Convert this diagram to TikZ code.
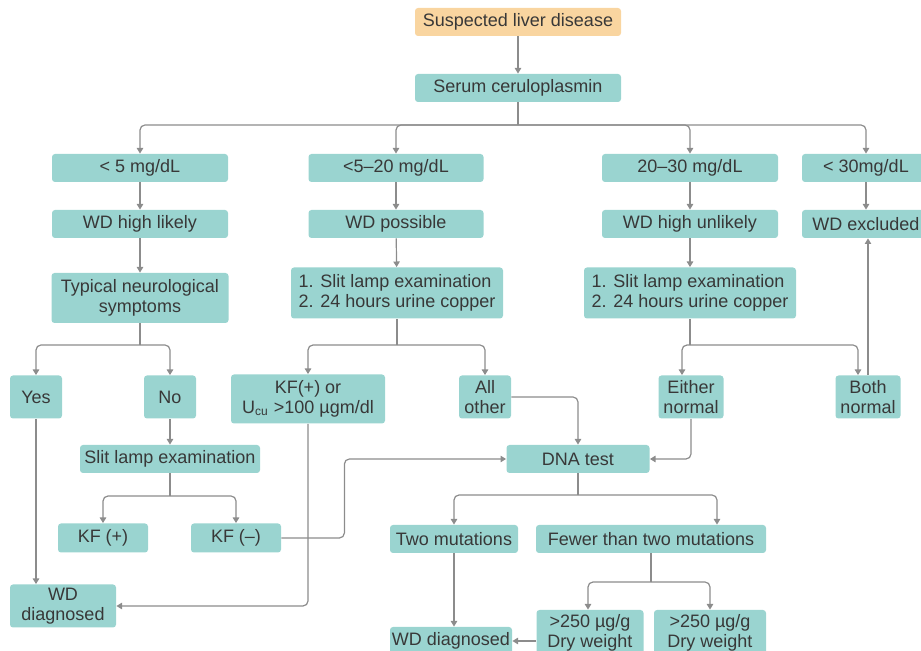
\documentclass[tikz,border=0pt]{standalone}
\usepackage{fontspec}
\setmainfont{Liberation Sans}
\usetikzlibrary{arrows.meta}
\definecolor{boxteal}{HTML}{9AD4D0}
\definecolor{boxorange}{HTML}{F9D5A0}
\definecolor{linkgray}{HTML}{8C8C8C}
\definecolor{textgray}{HTML}{383838}
\tikzstyle{box}=[
    fill=boxteal,rounded corners=1.5pt,inner sep=0pt,
    minimum height=14pt,align=center,text=textgray,
    font=\fontsize{9}{10}\selectfont
    ]
\tikzstyle{startbox}=[box,fill=boxorange]
\tikzstyle{link}=[
    draw=linkgray,line width=0.6pt,rounded corners=2.5pt,
    -{Triangle[width=3.2pt,length=2.8pt]}
    ]
\tikzstyle{joint}=[draw=linkgray,line width=0.6pt]

\begin{document}
\begin{tikzpicture}[
x=0.5pt,y=-0.5pt
]
\useasboundingbox (0,0) rectangle (921,651);
%top
\node[startbox,minimum width=103pt] (suspect) at (518,22) {Suspected liver disease};
\node[box,minimum width=103pt] (serum) at (518,88) {Serum ceruloplasmin};
%levels
\node[box,minimum width=88pt] (lowfive) at (140,168) {< 5 mg/dL};
\node[box,minimum width=87.5pt] (fivetwenty) at (396,168) {<5--20 mg/dL};
\node[box,minimum width=88pt] (twentythirty) at (690,168) {20--30 mg/dL};
\node[box,minimum width=64pt] (thirty) at (866,168) {< 30mg/dL};
\node[box,minimum width=88pt] (likely) at (140,224) {WD high likely};
\node[box,minimum width=87.5pt] (possible) at (396,224) {WD possible};
\node[box,minimum width=88pt] (unlikely) at (690,224) {WD high unlikely};
\node[box,minimum width=64pt] (excluded) at (866,224) {WD excluded};
%examinations
\node[box,minimum width=88.5pt,minimum height=25pt] (neuro) at (140,298) {Typical neurological\\symptoms};
\node[box,minimum width=106pt,minimum height=25.5pt,align=left] (slitA) at (397,293) {1. Slit lamp examination\\2. 24 hours urine copper};
\node[box,minimum width=106pt,minimum height=25.5pt,align=left] (slitB) at (690,293) {1. Slit lamp examination\\2. 24 hours urine copper};
%outcomes
\node[box,minimum width=26pt,minimum height=21.5pt] (yes) at (36,397) {Yes};
\node[box,minimum width=26pt,minimum height=21.5pt] (no) at (170,397) {No};
\node[box,minimum width=77pt,minimum height=24.5pt] (kfor) at (308,399) {KF(+) or\\U\textsubscript{cu} >100 µgm/dl};
\node[box,minimum width=26pt,minimum height=21.5pt] (allother) at (485,397) {All\\other};
\node[box,minimum width=32.5pt,minimum height=21.5pt] (either) at (691,397) {Either\\normal};
\node[box,minimum width=32.5pt,minimum height=21.5pt] (both) at (868,397) {Both\\normal};
\node[box,minimum width=90pt] (slit) at (170,459) {Slit lamp examination};
\node[box,minimum width=71.5pt] (dna) at (578,459) {DNA test};
\node[box,minimum width=45pt,minimum height=14.5pt] (kfplus) at (103,538) {KF (+)};
\node[box,minimum width=45pt,minimum height=14.5pt] (kfminus) at (236,538) {KF (--)};
\node[box,minimum width=64pt] (two) at (454,539) {Two mutations};
\node[box,minimum width=115pt] (fewer) at (651,539) {Fewer than two mutations};
\node[box,minimum width=53pt,minimum height=21.5pt] (diagA) at (63,606) {WD\\diagnosed};
\node[box,minimum width=61pt] (diagB) at (451,641) {WD diagnosed};
\node[box,minimum width=53.5pt,minimum height=23pt] (dryA) at (590,633) {>250 µg/g\\Dry weight};
\node[box,minimum width=56pt,minimum height=23pt] (dryB) at (710,633) {>250 µg/g\\Dry weight};
%branch points
\coordinate (split1) at (518,125);
\coordinate (split2) at (140,345);
\coordinate (split3) at (397,345);
\coordinate (split4) at (690,345);
\coordinate (split5) at (170,496);
\coordinate (split6) at (578,495);
\coordinate (split7) at (651,582);
%top links
\draw[link] (suspect) -- (serum);
\draw[joint] (serum.south) -- (split1);
\draw[link] (split1) -| (lowfive.north);
\draw[link] (split1) -| (fivetwenty.north);
\draw[link] (split1) -| (twentythirty.north);
\draw[link] (split1) -| (thirty.north);
\draw[link] (lowfive) -- (likely);
\draw[link] (fivetwenty) -- (possible);
\draw[link] (twentythirty) -- (unlikely);
\draw[link] (thirty) -- (excluded);
\draw[link] (likely) -- (neuro);
\draw[link] (possible) -- (slitA);
\draw[link] (unlikely) -- (slitB);
%left column
\draw[joint] (neuro.south) -- (split2);
\draw[link] (split2) -| (yes.north);
\draw[link] (split2) -| (no.north);
\draw[link] (no) -- (slit);
\draw[joint] (slit.south) -- (split5);
\draw[link] (split5) -| (kfplus.north);
\draw[link] (split5) -| (kfminus.north);
\draw[link] (yes.south) -- (yes.south |- diagA.north);
\draw[link] (kfor.south) |- (diagA.east);
\draw[link] (kfminus.east) -- ++(63,0) |- (dna.west);
%middle column
\draw[joint] (slitA.south) -- (split3);
\draw[link] (split3) -| (kfor.north);
\draw[link] (split3) -| (allother.north);
\draw[link] (allother.east) -| (dna.north);
%right column
\draw[joint] (slitB.south) -- (split4);
\draw[link] (split4) -| ([xshift=-4.5pt]either.north);
\draw[link] (split4) -| ([xshift=-5pt]both.north);
\draw[link] (either.south) |- (dna.east);
\draw[link] (both.north) -- (both.north |- excluded.south);
%dna test
\draw[joint] (dna.south) -- (split6);
\draw[link] (split6) -| (two.north);
\draw[link] (split6) -| ([xshift=33pt]fewer.north);
\draw[link] (two.south) -- (two.south |- diagB.north);
\draw[joint] (fewer.south) -- (split7);
\draw[link] (split7) -| ([xshift=-1pt]dryA.north);
\draw[link] (split7) -| (dryB.north);
\draw[link] (dryA.west |- diagB) -- (diagB.east);
\end{tikzpicture}
\end{document}
